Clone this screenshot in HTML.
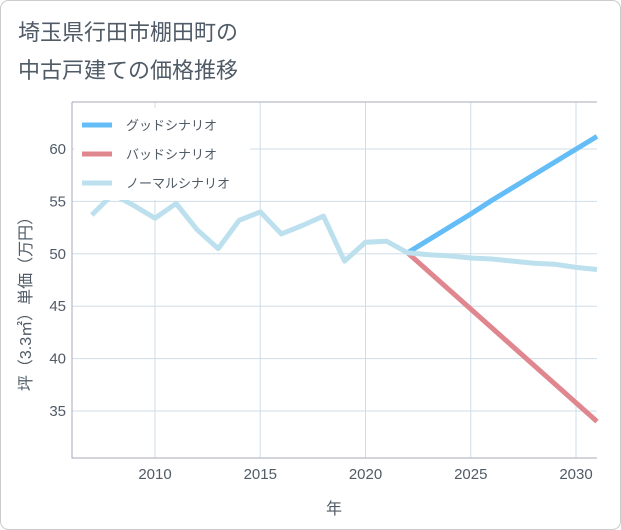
<!DOCTYPE html>
<html><head><meta charset="utf-8"><style>
body{margin:0;background:#fff}
svg{display:block;font-family:"Liberation Sans","Noto Sans CJK JP",sans-serif}
</style></head><body>
<svg width="621" height="530">
<rect x="0.5" y="0.5" width="620" height="529" rx="8" fill="#fff" stroke="#ccc"/>
<text x="18" y="40" font-size="22" fill="#4f5b66">埼玉県行田市棚田町の</text>
<text x="18" y="78" font-size="22" fill="#4f5b66">中古戸建ての価格推移</text>
<g id="grid"></g>
<g id="series"></g>
<g id="legend">
<rect x="74" y="108" width="176" height="92" fill="#fff"/>
<line x1="82" y1="125" x2="112" y2="125" stroke="#64bdf6" stroke-width="5"/>
<text x="126" y="130" font-size="13" fill="#4f5b66">グッドシナリオ</text>
<line x1="82" y1="154" x2="112" y2="154" stroke="#e0868f" stroke-width="5"/>
<text x="126" y="159" font-size="13" fill="#4f5b66">バッドシナリオ</text>
<line x1="82" y1="183" x2="112" y2="183" stroke="#bde0ee" stroke-width="5"/>
<text x="126" y="188" font-size="13" fill="#4f5b66">ノーマルシナリオ</text>
</g>
<text x="334" y="514" font-size="16" fill="#4f5b66" text-anchor="middle">年</text>
<text transform="translate(31,300) rotate(-90)" font-size="16" fill="#4f5b66" text-anchor="middle">坪（3.3㎡）単価（万円）</text>
</svg>
<script>
const xTicks=[2010,2015,2020,2025,2030];
const yTicks=[35,40,45,50,55,60];
const normalYears=[2007,2008,2009,2010,2011,2012,2013,2014,2015,2016,2017,2018,2019,2020,2021,2022,2023,2024,2025,2026,2027,2028,2029,2030,2031];
const normalVals=[53.7,55.7,54.6,53.4,54.8,52.3,50.5,53.2,54.0,51.9,52.7,53.6,49.3,51.1,51.2,50.1,49.9,49.8,49.6,49.5,49.3,49.1,49.0,48.7,48.5];
const goodYears=[2022,2025,2026,2031];
const goodVals=[50.1,53.8,55.1,61.2];
const badYears=[2022,2031];
const badVals=[50.1,34.0];
const L=72,R=597,T=102,B=458;
const sx=y=>155+(y-2010)*21.05;
const sy=v=>149+(60-v)*10.48;
const NS="http://www.w3.org/2000/svg";
const g=document.getElementById('grid'),s=document.getElementById('series');
function mk(p,tag,a){const e=document.createElementNS(NS,tag);for(const k in a)e.setAttribute(k,a[k]);p.appendChild(e);return e;}
xTicks.forEach(t=>{
const l=mk(g,'line',{x1:sx(t),x2:sx(t),y1:T,y2:B,stroke:'#cfdde8'});


const tx=mk(g,'text',{x:sx(t),y:479,'font-size':15,fill:'#4f5b66','text-anchor':'middle'});tx.textContent=t;


});
yTicks.forEach(t=>{
const l=mk(g,'line',{x1:L,x2:R,y1:sy(t),y2:sy(t),stroke:'#cfdde8'});


const tx=mk(g,'text',{x:66,y:sy(t)+5,'font-size':15,fill:'#4f5b66','text-anchor':'end'});tx.textContent=t;


});
const ax=mk(g,'path',{d:`M${L},${T}H${R}M${L},${T}V${B}H${R}`,fill:'none',stroke:'#aab'});


function line(ys,vs,c,name){
const d=ys.map((y,i)=>(i?'L':'M')+sx(y).toFixed(1)+','+sy(vs[i]).toFixed(1)).join('');
const p=mk(s,'path',{d,fill:'none',stroke:c,'stroke-width':5,'stroke-linejoin':'round'});


}
line(goodYears,goodVals,'#64bdf6','good-scenario-line');
line(badYears,badVals,'#e0868f','bad-scenario-line');
line(normalYears,normalVals,'#bde0ee','normal-scenario-line');
</script>
</body></html>
